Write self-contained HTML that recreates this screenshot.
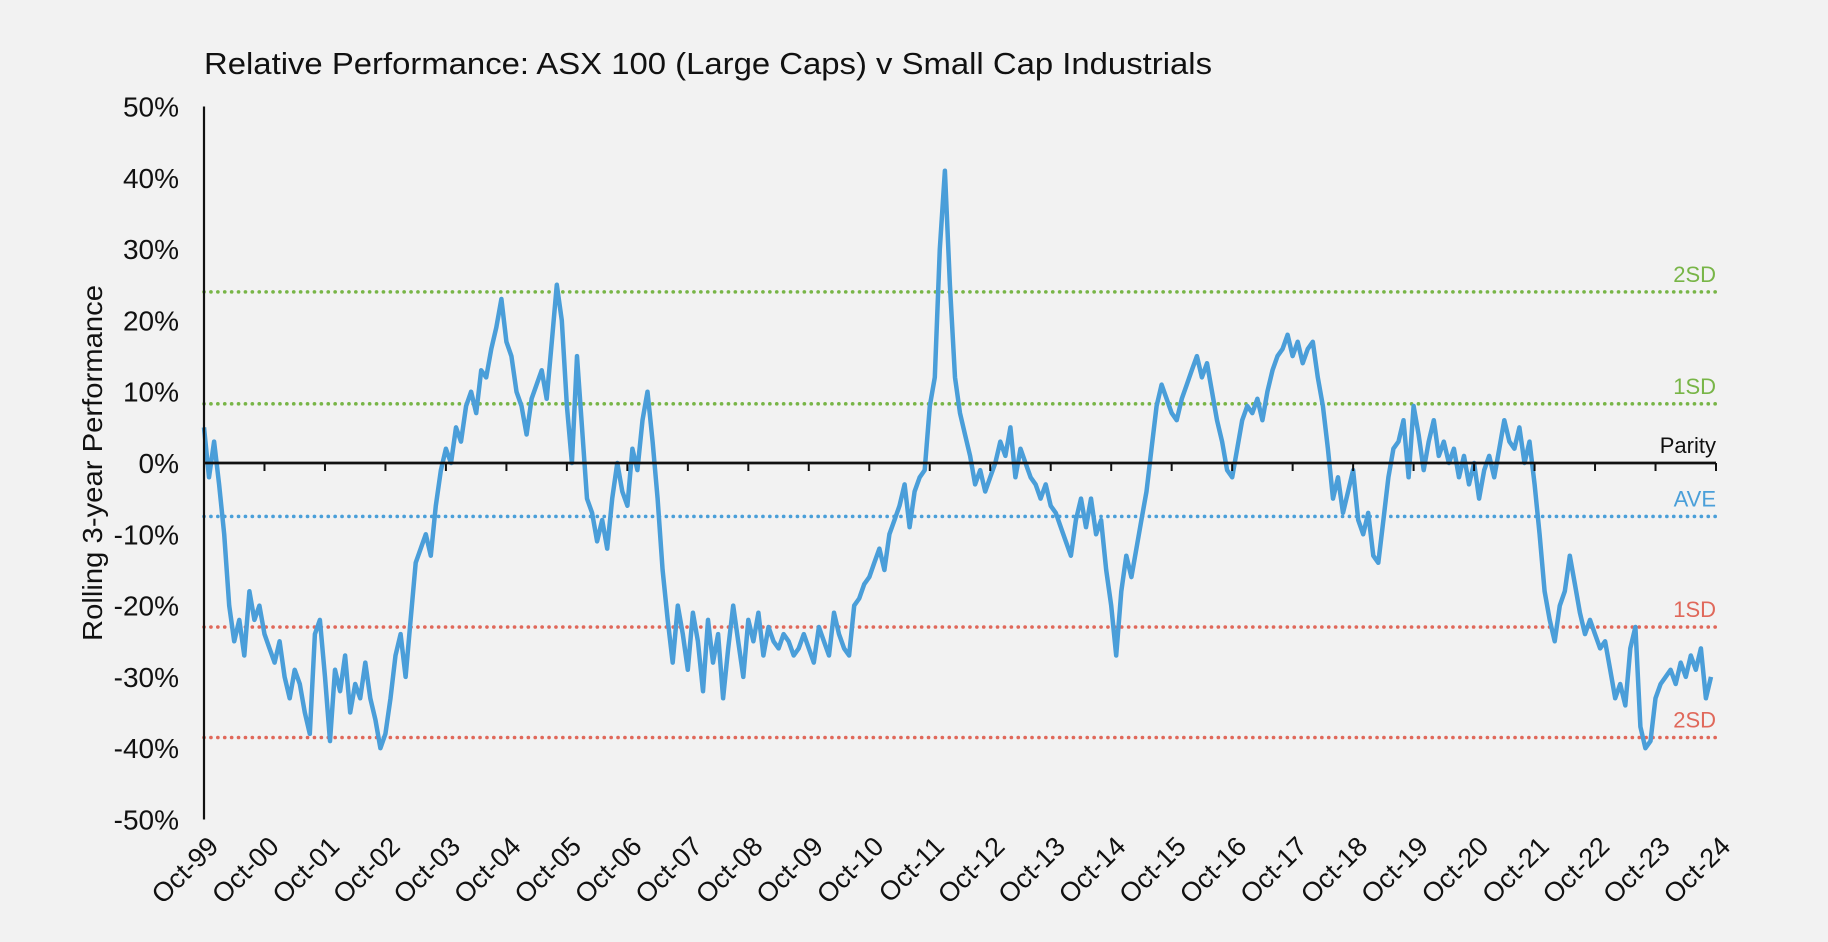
<!DOCTYPE html>
<html><head><meta charset="utf-8"><style>
html,body{margin:0;padding:0;background:#f2f2f2;}
svg{display:block;font-family:"Liberation Sans",Arial,sans-serif;}
</style></head><body>
<svg id="chart" width="1828" height="942" viewBox="0 0 1828 942">
<rect width="1828" height="942" fill="#f2f2f2"/>
<text x="204" y="74" font-size="31" fill="#111" textLength="1008" lengthAdjust="spacingAndGlyphs">Relative Performance: ASX 100 (Large Caps) v Small Cap Industrials</text>
<text transform="translate(102,463) rotate(-90)" text-anchor="middle" font-size="28" fill="#111" textLength="356" lengthAdjust="spacingAndGlyphs">Rolling  3-year  Performance</text>
<g id="grid"></g><g id="series"></g><g id="axes"></g>
</svg>
<script>
const yTicks=[50,40,30,20,10,0,-10,-20,-30,-40,-50];
const xLabels=["Oct-99","Oct-00","Oct-01","Oct-02","Oct-03","Oct-04","Oct-05","Oct-06","Oct-07","Oct-08","Oct-09","Oct-10","Oct-11","Oct-12","Oct-13","Oct-14","Oct-15","Oct-16","Oct-17","Oct-18","Oct-19","Oct-20","Oct-21","Oct-22","Oct-23","Oct-24"];
const refNames=["2SD","1SD","Parity","AVE","1SD","2SD"];
const refValues=[24,8.3,0,-7.5,-23,-38.5];
const refColors=["#78b547","#78b547","#111111","#4a9fd9","#e0685a","#e0685a"];
// monthly values from Oct-99
const perf=[5,-2,3,-3,-10,-20,-25,-22,-27,-18,-22,-20,-24,-26,-28,-25,-30,-33,-29,-31,-35,-38,-24,-22,-30,-39,-29,-32,-27,-35,-31,-33,-28,-33,-36,-40,-38,-33,-27,-24,-30,-22,-14,-12,-10,-13,-6,-1,2,0,5,3,8,10,7,13,12,16,19,23,17,15,10,8,4,9,11,13,9,17,25,20,8,0,15,5,-5,-7,-11,-8,-12,-5,0,-4,-6,2,-1,6,10,3,-5,-15,-22,-28,-20,-24,-29,-21,-25,-32,-22,-28,-24,-33,-26,-20,-25,-30,-22,-25,-21,-27,-23,-25,-26,-24,-25,-27,-26,-24,-26,-28,-23,-25,-27,-21,-24,-26,-27,-20,-19,-17,-16,-14,-12,-15,-10,-8,-6,-3,-9,-4,-2,-1,8,12,30,41,25,12,7,4,1,-3,-1,-4,-2,0,3,1,5,-2,2,0,-2,-3,-5,-3,-6,-7,-9,-11,-13,-8,-5,-9,-5,-10,-8,-15,-20,-27,-18,-13,-16,-12,-8,-4,2,8,11,9,7,6,9,11,13,15,12,14,10,6,3,-1,-2,2,6,8,7,9,6,10,13,15,16,18,15,17,14,16,17,12,8,2,-5,-2,-7,-4,-1,-8,-10,-7,-13,-14,-8,-2,2,3,6,-2,8,4,-1,3,6,1,3,0,2,-2,1,-3,0,-5,-1,1,-2,2,6,3,2,5,0,3,-3,-10,-18,-22,-25,-20,-18,-13,-17,-21,-24,-22,-24,-26,-25,-29,-33,-31,-34,-26,-23,-37,-40,-39,-33,-31,-30,-29,-31,-28,-30,-27,-29,-26,-33,-30];
const X0=204,X1=1716,Y0=463,PX=7.13;
function xs(t){return X0+(X1-X0)*t/25;}
function ys(v){return Y0-v*PX;}
const NS="http://www.w3.org/2000/svg";
function mk(tag,attrs,parent){const e=document.createElementNS(NS,tag);for(const k in attrs)e.setAttribute(k,attrs[k]);parent.appendChild(e);return e;}
const grid=document.getElementById('grid'),series=document.getElementById('series'),axes=document.getElementById('axes');
refValues.forEach((v,i)=>{
  if(refNames[i]==="Parity")return;
  const l=mk('line',{x1:X0,x2:X1,y1:ys(v),y2:ys(v),stroke:refColors[i],'stroke-width':3.6,'stroke-dasharray':'0.1 6.8','stroke-linecap':'round'},grid);
  
  
});
refValues.forEach((v,i)=>{
  const t=mk('text',{x:X1,y:ys(v)-10,'text-anchor':'end','font-size':22,fill:refColors[i]},axes);
  t.textContent=refNames[i];
  
  
});
const pts=perf.map((v,i)=>xs(i/12).toFixed(1)+","+ys(v).toFixed(1)).join(" ");
const pl=mk('polyline',{points:pts,fill:'none',stroke:'#4a9ed9','stroke-width':4.5,'stroke-linejoin':'round'},series);


const ya=mk('line',{x1:X0,x2:X0,y1:ys(50),y2:ys(-50),stroke:'#111','stroke-width':2.2},axes);


const xa=mk('line',{x1:X0,x2:X1,y1:Y0,y2:Y0,stroke:'#111','stroke-width':2.8},axes);


yTicks.forEach(v=>{
  const t=mk('text',{x:179,y:ys(v)+10,'text-anchor':'end','font-size':28,fill:'#111'},axes);
  t.textContent=v+"%";
  
  
});
xLabels.forEach((s,i)=>{
  const x=xs(i);
  const tk=mk('line',{x1:x,x2:x,y1:Y0,y2:Y0+8,stroke:'#111','stroke-width':2},axes);
  
  
  const t=mk('text',{x:0,y:0,'text-anchor':'end','font-size':27,fill:'#111',transform:'translate('+(x+16)+',848) rotate(-45)'},axes);
  t.textContent=s;
  
  
});
</script>
</body></html>
